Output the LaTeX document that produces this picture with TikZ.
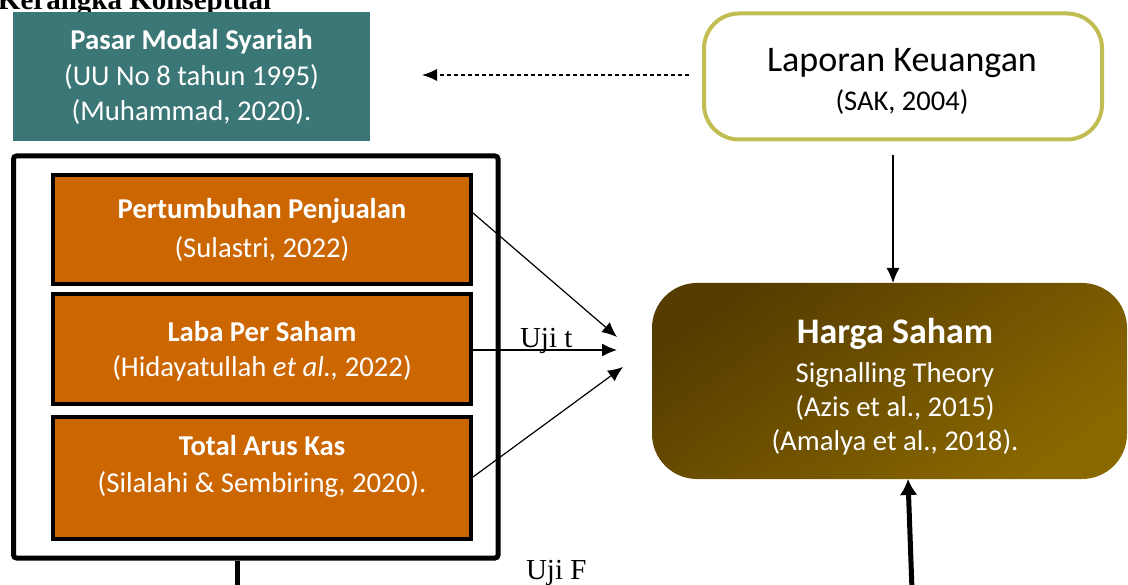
\documentclass[tikz,border=0pt]{standalone}
\usepackage{fontspec}
\setmainfont{Carlito}
\newfontfamily\timesf{Liberation Serif}
\usetikzlibrary{arrows.meta}
\definecolor{tealbg}{RGB}{59,119,118}
\definecolor{orangebg}{RGB}{204,102,0}
\definecolor{oliveline}{RGB}{194,189,82}
\definecolor{hsdark}{RGB}{86,60,0}
\definecolor{hslight}{RGB}{138,104,0}
\tikzset{
  txt/.style={anchor=base, inner sep=0pt, outer sep=0pt},
  wtxt/.style={txt, text=white},
  tealbox/.style={rectangle, fill=tealbg, inner sep=0pt, outer sep=0pt},
  obox/.style={rectangle, draw=black, line width=4pt, fill=orangebg, inner sep=0pt},
  framebox/.style={rectangle, draw=black, line width=5pt, rounded corners=3pt, inner sep=0pt},
  lapbox/.style={rectangle, draw=oliveline, line width=4pt, rounded corners=35pt, fill=white, inner sep=0pt},
  hsbox/.style={rectangle, rounded corners=45pt, top color=hsdark, bottom color=hslight, shading angle=35, inner sep=0pt, outer sep=0pt},
  thinarrow/.style={draw=black, line width=1.2pt, -{Latex[length=15pt,width=13pt]}},
  dasharrow/.style={draw=black, line width=1.2pt, dash pattern=on 4pt off 3pt, -{Latex[length=15pt,width=12pt]}},
  thickarrow/.style={draw=black, line width=5pt, -{Latex[length=16pt,width=18pt]}},
  body/.style={font=\fontsize{28.7}{34}\selectfont},
  bodyb/.style={font=\fontsize{28.7}{34}\selectfont\bfseries},
  serif/.style={font=\fontsize{29}{34}\selectfont\timesf},
}
\begin{document}
\begin{tikzpicture}[x=1pt,y=-1pt]
\useasboundingbox (0,0) rectangle (1128,585);

% title (cut off at the top)
\node[txt, font=\fontsize{29}{34}\selectfont\timesf\bfseries, anchor=base west] (title) at (-2,9.5) {Kerangka Konseptual};

% Pasar Modal Syariah
\node[tealbox, minimum width=357pt, minimum height=129pt] (pms) at (191.5,76.5) {};
\node[wtxt, bodyb] (pms1) at (191.5,50) {Pasar Modal Syariah};
\node[wtxt, body] (pms2) at (191.5,86) {(UU No 8 tahun 1995)};
\node[wtxt, body] (pms3) at (191.5,121) {(Muhammad, 2020).};

% Laporan Keuangan
\node[lapbox, minimum width=398pt, minimum height=126pt] (lap) at (903,76.5) {};
\node[txt, font=\fontsize{36}{40}\selectfont] (lap1) at (902,72) {Laporan Keuangan};
\node[txt, font=\fontsize{28.5}{34}\selectfont] (lap2) at (902,111) {(SAK, 2004)};

% outer frame
\node[framebox, minimum width=484.5pt, minimum height=402pt] (fr) at (255.75,357) {};

% orange boxes
\node[obox, minimum width=418pt, minimum height=109pt] (pp) at (262,229.5) {};
\node[wtxt, bodyb] (pp1) at (262,219) {Pertumbuhan Penjualan};
\node[wtxt, body] (pp2) at (262,258) {(Sulastri, 2022)};

\node[obox, minimum width=418pt, minimum height=110pt] (lps) at (262,349) {};
\node[wtxt, bodyb] (lps1) at (262,342) {Laba Per Saham};
\node[wtxt, body] (lps2) at (262,377) {(Hidayatullah \emph{et al.,} 2022)};

\node[obox, minimum width=418pt, minimum height=122pt] (tak) at (262,478) {};
\node[wtxt, bodyb] (tak1) at (262,456) {Total Arus Kas};
\node[wtxt, body] (tak2) at (262,492) {(Silalahi \& Sembiring, 2020).};

% Harga Saham
\node[hsbox, minimum width=475pt, minimum height=196pt] (hs) at (889.5,381) {};
\begin{scope}
  \clip (640,280) rectangle (1128,454);
  \node[wtxt, font=\fontsize{36}{40}\selectfont\bfseries] (hs1) at (895,344) {Harga Saham};
  \node[wtxt, body] (hs2) at (895,382.5) {Signalling Theory};
  \node[wtxt, body] (hs3) at (895,417) {(Azis et al., 2015)};
  \node[wtxt, body] (hs4) at (895,450) {(Amalya et al., 2018).};
\end{scope}

% helper coordinates
\coordinate (dy) at (0,75);
\coordinate (vx) at (893,0);
\coordinate (a1) at (0,213);
\coordinate (a2) at (0,350);
\coordinate (a3) at (0,477);
\coordinate (t1) at (617,337);
\coordinate (t2) at (617,350);
\coordinate (t3) at (623,367);
\coordinate (stem) at (237,590);
\coordinate (bstart) at (912,590);
\coordinate (bt) at (908,0);

% connectors
\draw[dasharrow, shorten <=13pt, shorten >=52pt] (lap.west |- dy) -- (pms.east |- dy);
\draw[thinarrow, shorten <=14pt] (lap.south -| vx) -- (hs.north -| vx);
\draw[thinarrow] (pp.east |- a1) -- (t1);
\draw[thinarrow] (lps.east |- a2) -- (t2);
\draw[thinarrow] (tak.east |- a3) -- (t3);
\draw[line width=5pt] (fr.south -| stem) -- (stem);
\draw[thickarrow] (bstart) -- (hs.south -| bt);

% labels
\node[txt, serif, anchor=base west] (ujit) at (520,348) {Uji t};
\node[txt, serif, anchor=base west] (ujif) at (526,579) {Uji F};
\end{tikzpicture}
\end{document}
